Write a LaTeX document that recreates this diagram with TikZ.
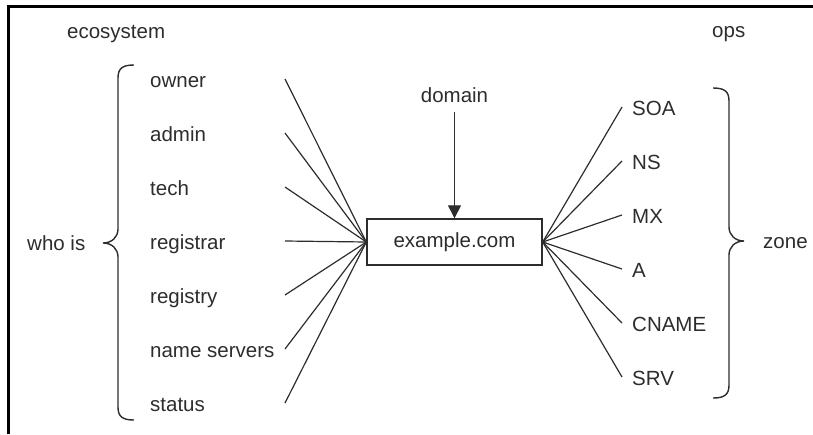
\documentclass[tikz,border=0pt]{standalone}
\usepackage{fontspec}
\setmainfont{Liberation Sans}
\usepackage{xcolor}
\usepackage{tikz}
\usetikzlibrary{positioning,arrows.meta}
\definecolor{inkgray}{RGB}{45,45,45}

\tikzset{
    itemtext/.style={anchor=base west, inner sep=0pt, text=inkgray},
    record/.style={draw=inkgray, line width=1.4pt, minimum width=175pt, minimum height=46pt, inner sep=0pt, text=inkgray},
    link/.style={draw=inkgray, line width=1.2pt},
    pointer/.style={draw=inkgray, line width=1.3pt, -{Triangle[width=13pt,length=13pt]}},
    bracket/.style={draw=inkgray, line width=1.4pt}
}

\begin{document}
\begin{tikzpicture}[x=1pt, y=-1pt, font=\fontsize{20.5}{24}\selectfont]
        \useasboundingbox (0,0) rectangle (813,434);
        % frame
        \draw[line width=3pt] (8.5,434) -- (8.5,6.5) -- (813,6.5);

        % headings
        \node[itemtext] (ecosystem) at (67,38) {ecosystem};
        \node[itemtext] (ops) at (712,37) {ops};
        \node[itemtext] (whois) at (27,250) {who is};
        \node[itemtext] (zone) at (763,248) {zone};

        % the domain
        \node[record] (site) at (454.5,242) {example.com};
        \node[anchor=base, inner sep=0pt, text=inkgray] (domain) at (454.5,102) {domain};
        \coordinate[below=10pt of domain] (domain-end);
        \draw[pointer] (domain-end) -- (site.north);

        % who is records
        \foreach \id/\txt/\yb in {owner/owner/87, admin/admin/141, tech/tech/195,
                registrar/registrar/249, registry/registry/303,
                nameservers/name servers/357, status/status/411} {
            \node[itemtext] (\id) at (150,\yb) {\txt};
            \coordinate (\id-end) at (285,\yb-8);
            \draw[link] (\id-end) -- (site.west);
        }

        % zone records
        \foreach \id/\txt/\yb in {soa/SOA/115, ns/NS/169, mx/MX/223,
                arec/A/277, cname/CNAME/331, srv/SRV/385} {
            \node[itemtext] (\id) at (632,\yb) {\txt};
            \coordinate (\id-end) at (622,\yb-8);
            \draw[link] (site.east) -- (\id-end);
        }

        % braces
        \draw[bracket] (134,65) .. controls (123,65) and (118,68) .. (118,78)
            -- (118,229) .. controls (118,237) and (112,243) .. (103,243)
            .. controls (112,243) and (118,249) .. (118,257)
            -- (118,407) .. controls (118,417) and (123,420) .. (134,420);
        \draw[bracket] (713,88) .. controls (724,88) and (729,91) .. (729,101)
            -- (729,227) .. controls (729,235) and (735,241) .. (744,241)
            .. controls (735,241) and (729,247) .. (729,255)
            -- (729,385) .. controls (729,395) and (724,398) .. (713,398);
    \end{tikzpicture}
\end{document}
